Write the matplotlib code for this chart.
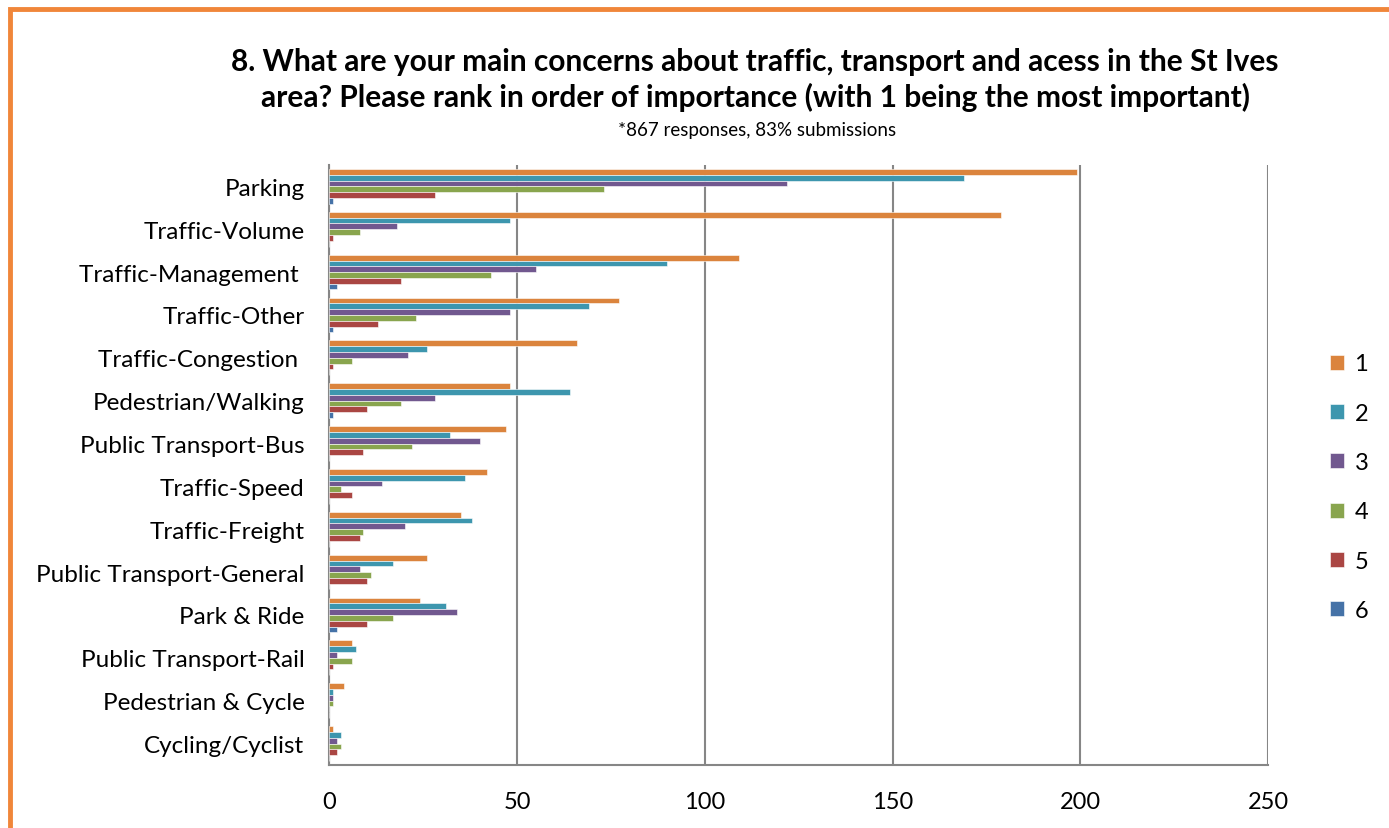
import matplotlib.pyplot as plt
import numpy as np
from matplotlib.patches import Rectangle

# Concern categories, top to bottom
categories = [
    "Parking",
    "Traffic-Volume",
    "Traffic-Management ",
    "Traffic-Other",
    "Traffic-Congestion ",
    "Pedestrian/Walking",
    "Public Transport-Bus",
    "Traffic-Speed",
    "Traffic-Freight",
    "Public Transport-General",
    "Park & Ride",
    "Public Transport-Rail",
    "Pedestrian & Cycle",
    "Cycling/Cyclist",
]

# Number of responses giving each rank
rank_1 = [199, 179, 109, 77, 66, 48, 47, 42, 35, 26, 24, 6, 4, 1]
rank_2 = [169, 48, 90, 69, 26, 64, 32, 36, 38, 17, 31, 7, 1, 3]
rank_3 = [122, 18, 55, 48, 21, 28, 40, 14, 20, 8, 34, 2, 1, 2]
rank_4 = [73, 8, 43, 23, 6, 19, 22, 3, 9, 11, 17, 6, 1, 3]
rank_5 = [28, 1, 19, 13, 1, 10, 9, 6, 8, 10, 10, 1, 0, 2]
rank_6 = [1, 0, 2, 1, 0, 1, 0, 0, 0, 0, 2, 0, 0, 0]

rank_labels = ["1", "2", "3", "4", "5", "6"]
x_ticks = [0, 50, 100, 150, 200, 250]

title = ("8. What are your main concerns about traffic, transport and acess in the St Ives\n"
         "area? Please rank in order of importance (with 1 being the most important)")
subtitle = "*867 responses, 83% submissions"

colors = ["#DB843D", "#3D96AE", "#71588F", "#89A54E", "#AA4643", "#4572A7"]
grid_color = "#868686"

plt.rcParams["font.family"] = ["Lato", "DejaVu Sans"]

fig = plt.figure(figsize=(13.89, 8.29), dpi=100)
ax = fig.add_axes([0.2372, 0.0760, 0.6757, 0.7238])

series = [rank_1, rank_2, rank_3, rank_4, rank_5, rank_6]
n = len(categories)
ypos = np.arange(n)
bar_h = 0.135
handles = []
for i, (vals, color, lab) in enumerate(zip(series, colors, rank_labels)):
    offset = (i - 2.5) * bar_h
    h = ax.barh(ypos + offset, vals, height=bar_h, color=color,
                edgecolor="white", linewidth=0.4, label=lab, zorder=3)
    handles.append(h)

ax.set_ylim(n - 0.5, -0.5)
ax.set_xlim(0, 250)
ax.set_xticks(x_ticks)
ax.set_xticklabels([str(t) for t in x_ticks], fontsize=17)
ax.set_yticks(ypos)
ax.set_yticklabels(categories, fontsize=17.5)
ax.tick_params(axis="y", length=0, pad=18)
ax.tick_params(axis="x", length=0, pad=19)

ax.grid(axis="x", color=grid_color, linewidth=1.5, zorder=0)
for side in ["top", "right"]:
    ax.spines[side].set_visible(False)
for side in ["left", "bottom"]:
    ax.spines[side].set_color(grid_color)
    ax.spines[side].set_linewidth(1.5)

fig.text(0.5436, 0.9035, title, ha="center", va="center", fontsize=21.5,
         fontweight="bold", linespacing=1.25)
fig.text(0.5450, 0.843, subtitle, ha="center", va="center", fontsize=13.5)

fig.legend(handles=handles, labels=rank_labels, loc="center left",
           bbox_to_anchor=(0.9505, 0.411), frameon=False, fontsize=17,
           handlelength=0.6, handleheight=0.6, handletextpad=0.45,
           labelspacing=1.2, borderaxespad=0)

# orange frame around the chart
fig.patches.append(Rectangle((10 / 1389, -0.2), 1.3, 1.2 - 10 / 829,
                             transform=fig.transFigure, fill=False,
                             edgecolor="#F0863A", linewidth=3.5))

fig.savefig("out.png", dpi=100)
